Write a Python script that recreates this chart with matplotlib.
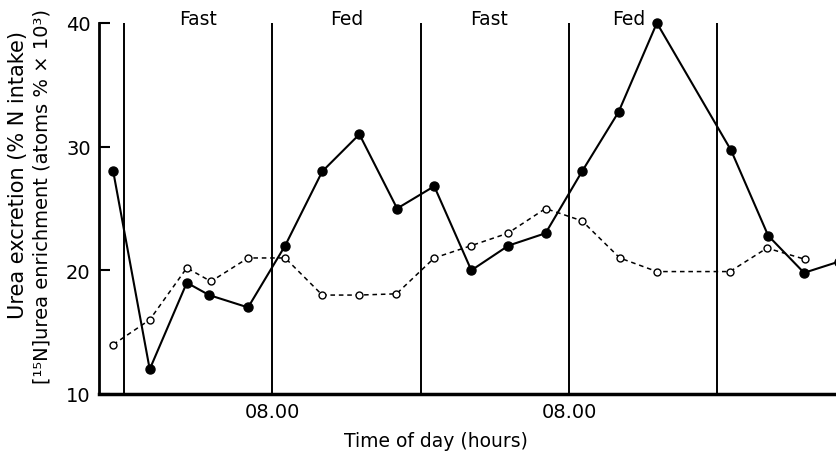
import matplotlib
matplotlib.use("Agg")
import matplotlib.pyplot as plt

# Data (hours relative to first 08.00)
solid_hours = [-12.85, -9.9, -6.9, -5.1, -1.95, 1.05, 4.05, 7.05, 10.1, 13.1, 16.1, 19.1, 22.1, 25.05, 28.0, 31.1, 37.1, 40.1, 43.0, 45.8]
solid_vals = [28.0, 12.0, 19.0, 18.0, 17.0, 22.0, 28.0, 31.0, 25.0, 26.8, 20.0, 22.0, 23.0, 28.0, 32.8, 40.0, 29.7, 22.8, 19.8, 20.7]
open_hours = [-12.85, -9.9, -6.9, -4.95, -1.95, 1.05, 4.05, 7.0, 10.05, 13.1, 16.1, 19.05, 22.1, 25.05, 28.1, 31.1, 37.0, 40.0, 43.05]
open_vals = [14.0, 16.0, 20.2, 19.1, 21.0, 21.0, 18.0, 18.0, 18.1, 21.0, 22.0, 23.0, 25.0, 24.0, 21.0, 19.9, 19.9, 21.8, 20.9]
boundaries = [-12, 0, 12, 24, 36]
phase_labels = ["Fast", "Fed", "Fast", "Fed"]
phase_label_x = [-6.0, 6.0, 17.5, 28.8]
xtick_pos = [0, 24]
xtick_labels = ["08.00", "08.00"]
yticks = [10, 20, 30, 40]

plt.rcParams['font.family'] = ['DejaVu Sans']

fig = plt.figure(figsize=(8.36, 4.52), dpi=100)
ax = fig.add_axes([99/836, 57/452, 1 - 99/836, (395-24)/452])

for b in boundaries:
    ax.axvline(b, color='black', lw=1.4, zorder=1)

ax.plot(open_hours, open_vals, color='black', lw=1.1, ls=(0, (3, 2.5)),
        marker='o', ms=5, mfc='white', mec='black', mew=1.0, zorder=3, clip_on=False)
ax.plot(solid_hours, solid_vals, color='black', lw=1.5, ls='-',
        marker='o', ms=6.5, mfc='black', mec='black', zorder=4, clip_on=False)

ax.set_xlim(-14.0, 45.58)
ax.set_ylim(10, 40)
ax.set_yticks(yticks)
ax.set_yticklabels([str(v) for v in yticks], fontsize=14)
ax.set_xticks(xtick_pos)
ax.set_xticklabels(xtick_labels, fontsize=14)
ax.tick_params(axis='y', direction='in', length=8, width=1.5, pad=6)
ax.tick_params(axis='x', length=0, pad=6)

for s in ['top', 'right']:
    ax.spines[s].set_visible(False)
ax.spines['left'].set_linewidth(2)
ax.spines['bottom'].set_linewidth(2.5)

for lbl, xp in zip(phase_labels, phase_label_x):
    ax.text(xp, 40.4, lbl, ha='center', va='center', fontsize=13.5, clip_on=False)

fig.text(436/836, 1 - 442/452, "Time of day (hours)", ha='center', va='center', fontsize=13.5)
fig.text(18/836, 1 - 175/452, "Urea excretion (% N intake)", rotation=90,
         ha='center', va='center', fontsize=15)
fig.text(42/836, 1 - 197/452, "[\u00b9\u2075N]urea enrichment (atoms % \u00d7 10\u00b3)", rotation=90,
         ha='center', va='center', fontsize=14)

fig.savefig("out.png", dpi=100)
